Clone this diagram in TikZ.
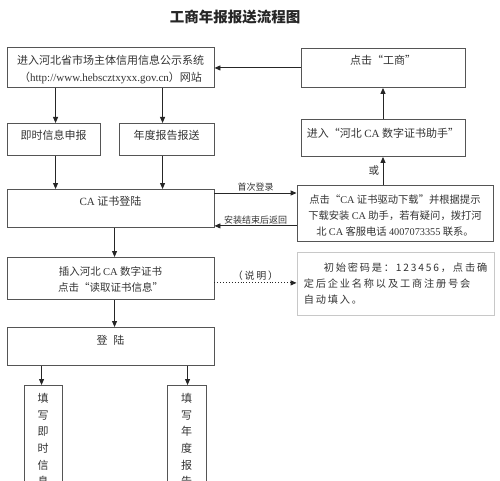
\documentclass[tikz,border=0pt]{standalone}
\usepackage{fontspec}
\setmainfont{Liberation Serif}
\newfontfamily\cjk{Noto Sans CJK SC}
\newfontfamily\cjksp[LetterSpace=18]{Noto Sans CJK SC}
\usetikzlibrary{arrows.meta}
\newcommand\LT[1]{{\rmfamily #1}}
\definecolor{txt}{HTML}{333333}
\definecolor{edge}{HTML}{555555}
\definecolor{lite}{HTML}{C8C8C8}
\begin{document}
\begin{tikzpicture}[x=1pt,y=-1pt,
  box/.style={draw=edge, line width=0.9pt, inner sep=0pt, anchor=north,
    font=\cjk\fontsize{11}{17}\selectfont, text=txt, align=center},
  arr/.style={draw=black!85, line width=0.9pt, -{Triangle[length=6pt,width=5pt]}},
  lbl/.style={font=\cjk\fontsize{9}{10}\selectfont, text=txt, inner sep=1.5pt}]
\useasboundingbox (0,0) rectangle (500,481);
\clip (0,0) rectangle (500,481);
\fill[white] (0,0) rectangle (500,481);

\node[font=\cjk\bfseries\fontsize{14.5}{16}\selectfont, text=black!85] (T) at (235,17) {工商年报报送流程图};

\node[box, minimum width=207pt, text height=34pt, text depth=6pt] (A) at (110.5,47)
  {进入河北省市场主体信用信息公示系统\\（\LT{http://www.hebscztxyxx.gov.cn}）网站};
\node[box, minimum width=164pt, text height=16pt, text depth=23pt] (B) at (383,48) {点击“工商”};
\node[box, minimum width=93pt, text height=16pt, text depth=16pt] (C) at (53.5,123) {即时信息申报};
\node[box, minimum width=95pt, text height=16pt, text depth=16pt] (D) at (166.5,123) {年度报告报送};
\node[box, minimum width=164pt, text height=18pt, text depth=19pt] (E) at (383,119) {进入“河北 \LT{CA} 数字证书助手”};
\node[box, minimum width=207pt, text height=16pt, text depth=22pt] (F) at (110.5,189) {\LT{CA} 证书登陆};
\node[box, minimum width=196pt, text height=50pt, text depth=6pt, font=\cjk\fontsize{10.3}{16}\selectfont] (G) at (395,185)
  {点击“\LT{CA} 证书驱动下载”并根据提示\\下载安装 \LT{CA} 助手，若有疑问，拨打河\\北 \LT{CA} 客服电话 \LT{4007073355} 联系。};
\node[box, minimum width=207pt, text height=34pt, text depth=8pt, font=\cjk\fontsize{10.5}{16}\selectfont] (H) at (110.5,257)
  {插入河北 \LT{CA} 数字证书\\点击“读取证书信息”};
\node[box, draw=lite, minimum width=197pt, text height=51pt, text depth=12pt, align=left, font=\cjksp\fontsize{10.2}{16}\selectfont] (I) at (395.5,252)
  {\hspace*{20pt}初始密码是：123456，点击确\\定后企业名称以及工商注册号会\\自动填入。};
\node[box, minimum width=207pt, text height=17pt, text depth=21pt] (J) at (110.5,327) {登\hspace{6pt}陆};
\node[box, minimum width=38pt, text height=100.5pt, text depth=37pt, font=\cjk\fontsize{11}{16.7}\selectfont] (K) at (43,385)
  {填\\写\\即\\时\\信\\息};
\node[box, minimum width=39pt, text height=100.5pt, text depth=37pt, font=\cjk\fontsize{11}{16.7}\selectfont] (L) at (186.5,385)
  {填\\写\\年\\度\\报\\告};

\draw[arr] (B.west) -- (B.west -| A.east);
\draw[arr] ([xshift=49pt]A.south west) -- ([xshift=49pt]A.south west |- C.north);
\draw[arr] ([xshift=156pt]A.south west) -- ([xshift=156pt]A.south west |- D.north);
\draw[arr] ([xshift=49pt]F.north west |- C.south) -- ([xshift=49pt]F.north west);
\draw[arr] ([xshift=156pt]F.north west |- D.south) -- ([xshift=156pt]F.north west);
\draw[arr] (E.north) -- (B.south);
\draw[arr] (G.north -| E) -- node[lbl, left, font=\cjk\fontsize{10.5}{12}\selectfont, xshift=-2pt] {或} (E.south);
\draw[arr] ([yshift=-4pt]F.north east) -- ([yshift=-4pt]F.north east -| G.west) node[lbl, midway, above] {首次登录};
\draw[arr] ([yshift=2pt]F.south east -| G.west) -- ([yshift=2pt]F.south east) node[lbl, midway, above] {安装结束后返回};
\draw[arr] ([xshift=108pt]F.south west) -- ([xshift=108pt]F.south west |- H.north);
\draw[arr] ([xshift=108pt]H.south west) -- ([xshift=108pt]H.south west |- J.north);
\draw[arr, dotted] ([yshift=17pt]H.south east) -- ([yshift=17pt]H.south east -| I.west) node[lbl, midway, above, font=\cjksp\fontsize{10}{12}\selectfont] {（说明）};
\draw[arr] ([xshift=35pt]J.south west) -- ([xshift=35pt]J.south west |- K.north);
\draw[arr] ([xshift=181pt]J.south west) -- ([xshift=181pt]J.south west |- L.north);
\end{tikzpicture}
\end{document}
